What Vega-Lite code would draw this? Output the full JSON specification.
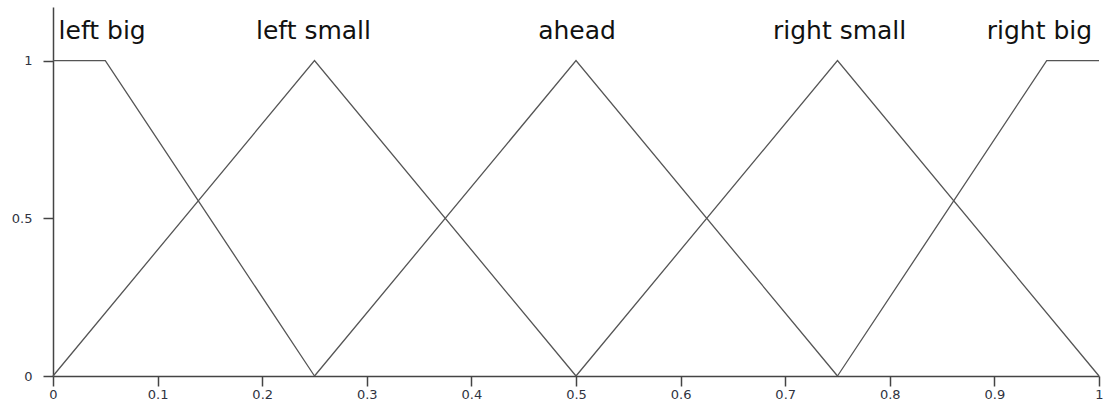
{
  "$schema": "https://vega.github.io/schema/vega-lite/v6.json",
  "width": 1046,
  "height": 369,
  "autosize": {"type": "none"},
  "padding": {"left": 53, "top": 7, "right": 6, "bottom": 25},
  "background": "white",
  "config": {
    "view": {"stroke": null},
    "axis": {
      "grid": false,
      "title": null,
      "domainColor": "#444",
      "domainWidth": 1.5,
      "tickColor": "#444",
      "tickWidth": 1.5,
      "tickSize": 10,
      "labelFont": "DejaVu Sans",
      "labelFontSize": 13,
      "labelColor": "#2f3340"
    }
  },
  "datasets": {
    "membership": [
      {"set": "left big", "order": 1, "x": 0, "mu": 1},
      {"set": "left big", "order": 2, "x": 0.05, "mu": 1},
      {"set": "left big", "order": 3, "x": 0.25, "mu": 0},
      {"set": "left small", "order": 1, "x": 0, "mu": 0},
      {"set": "left small", "order": 2, "x": 0.25, "mu": 1},
      {"set": "left small", "order": 3, "x": 0.5, "mu": 0},
      {"set": "ahead", "order": 1, "x": 0.25, "mu": 0},
      {"set": "ahead", "order": 2, "x": 0.5, "mu": 1},
      {"set": "ahead", "order": 3, "x": 0.75, "mu": 0},
      {"set": "right small", "order": 1, "x": 0.5, "mu": 0},
      {"set": "right small", "order": 2, "x": 0.75, "mu": 1},
      {"set": "right small", "order": 3, "x": 1, "mu": 0},
      {"set": "right big", "order": 1, "x": 0.75, "mu": 0},
      {"set": "right big", "order": 2, "x": 0.95, "mu": 1},
      {"set": "right big", "order": 3, "x": 1, "mu": 1}
    ],
    "names": [
      {"label": "left big", "x": 0.047, "mu": 1.07},
      {"label": "left small", "x": 0.249, "mu": 1.07},
      {"label": "ahead", "x": 0.501, "mu": 1.07},
      {"label": "right small", "x": 0.752, "mu": 1.07},
      {"label": "right big", "x": 0.943, "mu": 1.07}
    ]
  },
  "layer": [
    {
      "data": {"name": "membership"},
      "mark": {"type": "line", "stroke": "#555", "strokeWidth": 1.3},
      "encoding": {
        "x": {
          "field": "x",
          "type": "quantitative",
          "scale": {"domain": [0, 1], "nice": false, "zero": false},
          "axis": {
            "values": [0, 0.1, 0.2, 0.3, 0.4, 0.5, 0.6, 0.7, 0.8, 0.9, 1],
            "format": "~g",
            "labelPadding": 2,
            "labelFlush": false,
            "labelOverlap": false
          }
        },
        "y": {
          "field": "mu",
          "type": "quantitative",
          "scale": {"domain": [0, 1.17], "nice": false},
          "axis": {
            "values": [0, 0.5, 1],
            "format": "~g",
            "labelPadding": 11
          }
        },
        "detail": {"field": "set"},
        "order": {"field": "order"}
      }
    },
    {
      "data": {"name": "names"},
      "mark": {
        "type": "text",
        "font": "DejaVu Sans",
        "fontSize": 25,
        "color": "#111",
        "align": "center",
        "baseline": "alphabetic"
      },
      "encoding": {
        "x": {"field": "x", "type": "quantitative"},
        "y": {"field": "mu", "type": "quantitative"},
        "text": {"field": "label"}
      }
    },
    {
      "mark": {"type": "rule", "stroke": "#444", "strokeWidth": 1.5},
      "encoding": {"x": {"datum": 1}}
    }
  ]
}
